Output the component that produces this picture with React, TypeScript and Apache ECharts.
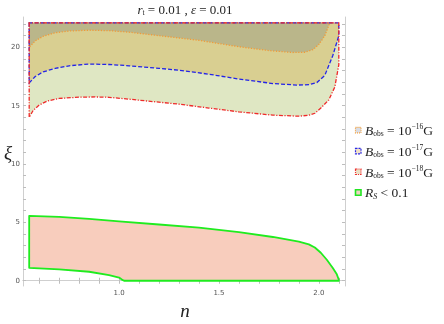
import React, { useEffect, useRef } from "react";
import * as echarts from "echarts";

// ---- data ----
const TOP_XI = 22.1;
const N_LEFT = 0.55;
const N_RIGHT = 2.1;

const nB16 = [0.55, 0.58, 0.62, 0.68, 0.75, 0.85, 0.95, 1.05, 1.2, 1.4, 1.6, 1.75, 1.87, 1.93, 1.97, 2.0, 2.03, 2.055];
const xiB16 = [20.0, 20.55, 20.95, 21.25, 21.4, 21.47, 21.43, 21.3, 21.0, 20.6, 20.05, 19.72, 19.56, 19.58, 19.8, 20.25, 21.0, 22.1];

const nB17 = [0.55, 0.58, 0.62, 0.68, 0.75, 0.85, 0.95, 1.05, 1.2, 1.3, 1.45, 1.6, 1.77, 1.89, 1.95, 1.99, 2.03, 2.07, 2.1];
const xiB17 = [16.95, 17.5, 17.9, 18.2, 18.42, 18.57, 18.53, 18.42, 18.2, 18.04, 17.7, 17.28, 16.9, 16.77, 16.8, 16.98, 17.6, 19.3, 21.0];

const nB18 = [0.55, 0.57, 0.6, 0.64, 0.7, 0.8, 0.88, 0.95, 1.05, 1.2, 1.3, 1.45, 1.6, 1.77, 1.9, 1.95, 1.98, 2.01, 2.05, 2.08, 2.1];
const xiB18 = [14.0, 14.6, 15.05, 15.4, 15.62, 15.73, 15.75, 15.72, 15.56, 15.3, 15.13, 14.8, 14.47, 14.19, 14.1, 14.18, 14.35, 14.8, 15.5, 16.6, 18.5];

const nRsUpper = [0.55, 0.7, 0.85, 1.0, 1.2, 1.4, 1.6, 1.77, 1.9, 1.95, 1.98, 2.01, 2.04, 2.07, 2.09, 2.1];
const xiRsUpper = [5.56, 5.48, 5.3, 5.08, 4.82, 4.56, 4.17, 3.75, 3.36, 3.12, 2.85, 2.4, 1.8, 1.1, 0.55, 0.08];
const nRsLower = [2.1, 1.025, 1.012, 1.0, 0.95, 0.85, 0.7, 0.55];
const xiRsLower = [0.0, 0.0, 0.12, 0.27, 0.48, 0.77, 0.98, 1.11];

const xMajorTicks = [1.0, 1.5, 2.0];
const xMinorTicks = [0.6, 0.7, 0.8, 0.9, 1.0, 1.1, 1.2, 1.3, 1.4, 1.5, 1.6, 1.7, 1.8, 1.9, 2.0, 2.1];
const yMajorTicks = [0, 5, 10, 15, 20];
const yMinorTicks = [0, 1, 2, 3, 4, 5, 6, 7, 8, 9, 10, 11, 12, 13, 14, 15, 16, 17, 18, 19, 20, 21, 22];

const legendExponents = ["−16", "−17", "−18"];

// ---- helpers ----
const zip = (a: number[], b: number[]) => a.map((v, i) => [v, b[i]]);
const regionAbove = (ns: number[], xis: number[]) => {
  const pts = zip(ns, xis);
  return [[N_LEFT, TOP_XI], ...pts, [ns[ns.length - 1], TOP_XI]];
};

const polyB16 = regionAbove(nB16, xiB16);
const polyB17 = regionAbove(nB17, xiB17);
const polyB18 = regionAbove(nB18, xiB18);
const polyRs = [...zip(nRsUpper, xiRsUpper), ...zip(nRsLower, xiRsLower)];

const SERIF = "'Liberation Serif', 'DejaVu Serif', serif";

function polySeries(name: string, pts: number[][], style: any, z: number) {
  return {
    type: "custom",
    name,
    xAxisIndex: 0,
    yAxisIndex: 0,
    coordinateSystem: "cartesian2d",
    clip: false,
    z,
    silent: true,
    encode: { x: 0, y: 1 },
    data: pts,
    renderItem: (params: any, api: any) => {
      if (params.dataIndex !== 0) return null;
      const points = pts.map((p) => api.coord(p));
      return { type: "polygon", shape: { points }, style };
    },
  };
}

export default function App() {
  const ref = useRef<HTMLDivElement>(null);
  useEffect(() => {
    if (!ref.current) return;
    const chart = echarts.init(ref.current, undefined, { renderer: "svg" });

    const frame = "#cfcfcf";
    const tickStyle = { show: true, inside: true, length: 3, lineStyle: { color: "#bdbdbd", width: 1 } };
    const xCommon = { type: "value", min: 0.519, max: 2.131, splitLine: { show: false }, axisLine: { show: true, lineStyle: { color: frame, width: 1 } } };
    const yCommon = { type: "value", min: -0.45, max: 22.6, splitLine: { show: false }, axisLine: { show: true, lineStyle: { color: frame, width: 1 } } };

    const legendRows = [130.3, 151.3, 172, 192.7];
    const swatches = [
      { fill: "#d9dde6", stroke: "#f2a03c", dash: [1, 1] },
      { fill: "#f2e2c6", stroke: "#2a2ae6", dash: [2, 1] },
      { fill: "#eae0c6", stroke: "#ee3030", dash: [2, 1, 1, 1] },
      { fill: "#f0d2c4", stroke: "#22e622", dash: null },
    ];

    const FS = 13.5;
    const legendGraphics: any[] = [];
    swatches.forEach((s, i) => {
      legendGraphics.push({
        type: "rect",
        shape: { x: 355.5, y: legendRows[i] - 3, width: 5.5, height: 5.5 },
        style: { fill: s.fill, stroke: s.stroke, lineWidth: i === 3 ? 1.6 : 1.2, lineDash: s.dash || undefined },
      });
    });
    legendExponents.forEach((e, i) => {
      legendGraphics.push({
        type: "text",
        x: 365,
        y: legendRows[i],
        style: {
          text: `{b|B}{s|obs}{m| = 10}{p|${e}}{m|G}`,
          verticalAlign: "middle",
          rich: {
            b: { fontFamily: SERIF, fontStyle: "italic", fontSize: FS, lineHeight: 15, fill: "#222" },
            s: { fontFamily: SERIF, fontSize: 7.5, verticalAlign: "bottom", lineHeight: 15, fill: "#222" },
            m: { fontFamily: SERIF, fontSize: FS, lineHeight: 15, fill: "#222" },
            p: { fontFamily: SERIF, fontSize: 7.5, verticalAlign: "top", lineHeight: 15, fill: "#222" },
          },
        },
      });
    });
    legendGraphics.push({
      type: "text",
      x: 365,
      y: legendRows[3],
      style: {
        text: "{b|R}{s|S}{m| < 0.1}",
        verticalAlign: "middle",
        rich: {
          b: { fontFamily: SERIF, fontStyle: "italic", fontSize: FS, lineHeight: 15, fill: "#222" },
          s: { fontFamily: SERIF, fontStyle: "italic", fontSize: 8, verticalAlign: "bottom", lineHeight: 15, fill: "#222" },
          m: { fontFamily: SERIF, fontSize: FS, lineHeight: 15, fill: "#222" },
        },
      },
    });

    chart.setOption({
      animation: false,
      grid: { left: 23, right: 99, top: 17, bottom: 38, containLabel: false },
      xAxis: [
        {
          ...xCommon,
          position: "bottom",
          axisTick: { ...tickStyle, customValues: xMinorTicks },
          axisLabel: { show: true, customValues: xMajorTicks, formatter: (v: number) => v.toFixed(1), fontSize: 7, color: "#555", margin: 3, fontFamily: "'DejaVu Sans', sans-serif" },
        },
        {
          ...xCommon,
          position: "top",
          axisTick: { ...tickStyle, customValues: xMinorTicks },
          axisLabel: { show: false },
        },
      ],
      yAxis: [
        {
          ...yCommon,
          position: "left",
          axisTick: { ...tickStyle, customValues: yMinorTicks },
          axisLabel: { show: true, customValues: yMajorTicks, fontSize: 7, color: "#555", margin: 3, fontFamily: "'DejaVu Sans', sans-serif" },
        },
        {
          ...yCommon,
          position: "right",
          axisTick: { ...tickStyle, customValues: yMinorTicks },
          axisLabel: { show: false },
        },
      ],
      series: [
        polySeries("B18fill", polyB18, { fill: "#dfe7c3", stroke: "none" }, 1),
        polySeries("B17fill", polyB17, { fill: "#d9cf91", stroke: "none" }, 2),
        polySeries("B16fill", polyB16, { fill: "#bab68a", stroke: "none" }, 3),
        polySeries("B16line", polyB16, { fill: "none", stroke: "#f39a36", lineWidth: 1.3, lineDash: [1.2, 1.6] }, 4),
        polySeries("B17line", polyB17, { fill: "none", stroke: "#2323e8", lineWidth: 1.3, lineDash: [4, 2] }, 5),
        polySeries("B18line", polyB18, { fill: "none", stroke: "#ef2a2a", lineWidth: 1.3, lineDash: [4, 1.5, 1.2, 1.5] }, 6),
        polySeries("Rs", polyRs, { fill: "#f8cdbd", stroke: "#1fec1f", lineWidth: 1.8, lineJoin: "round" }, 7),
      ],
      graphic: [
        {
          type: "text",
          x: 185,
          y: 9,
          style: {
            text: "{i|r}{s|t}{m| = 0.01 , }{i|ε}{m| = 0.01}",
            align: "center",
            verticalAlign: "middle",
            rich: {
              i: { fontFamily: SERIF, fontStyle: "italic", fontSize: 13, lineHeight: 15, fill: "#222" },
              s: { fontFamily: SERIF, fontSize: 7.5, verticalAlign: "bottom", lineHeight: 15, fill: "#222" },
              m: { fontFamily: SERIF, fontSize: 13, lineHeight: 15, fill: "#222" },
            },
          },
        },
        {
          type: "text",
          x: 8,
          y: 152,
          style: { text: "ξ", fontFamily: SERIF, fontStyle: "italic", fontSize: 19, fill: "#222", align: "center", verticalAlign: "middle" },
        },
        {
          type: "text",
          x: 185,
          y: 310,
          style: { text: "n", fontFamily: SERIF, fontStyle: "italic", fontSize: 19, fill: "#222", align: "center", verticalAlign: "middle" },
        },
        ...legendGraphics,
      ],
    });
    return () => chart.dispose();
  }, []);
  return <div ref={ref} style={{ position: "fixed", left: 0, top: 0, width: 444, height: 324 }} />;
}
